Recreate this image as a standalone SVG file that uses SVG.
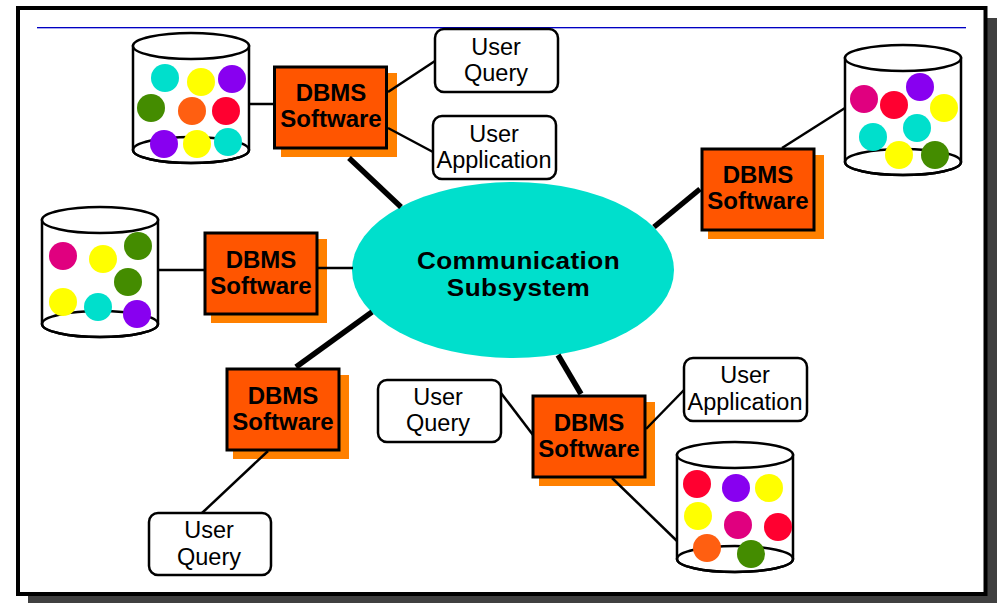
<svg xmlns="http://www.w3.org/2000/svg" width="997" height="603" viewBox="0 0 997 603">
<style>
.sh{fill:#ff8000}
.bx{fill:#ff5500;stroke:#000;stroke-width:3}
.d{font:bold 24px "Liberation Sans",Arial,sans-serif;fill:#000;text-anchor:middle}
.hb{letter-spacing:.4px}
.u{font:23.500px "Liberation Sans",Arial,sans-serif;fill:#000;text-anchor:middle}
.ub{fill:#fff;stroke:#000;stroke-width:2.5}
.cy{fill:#fff;stroke:#000;stroke-width:2.5}
.cl{fill:none;stroke:#000;stroke-width:2.5}
.t{stroke:#000;stroke-width:2.5;fill:none}
.k{stroke:#000;stroke-width:5.5;fill:none}
.c{fill:#00dfcc}.y{fill:#ffff00}.p{fill:#8800f0}.g{fill:#448c00}.o{fill:#ff5f11}.r{fill:#ff0030}.m{fill:#e0007f}
</style>
<rect width="997" height="603" fill="#fff"/>
<rect x="28" y="18" width="969" height="585" fill="#404040"/>
<rect x="18" y="8" width="967.500" height="586" fill="#fff" stroke="#000" stroke-width="4"/>
<rect x="37" y="27" width="929" height="1" fill="#0000c0"/>
<rect x="37" y="28" width="929" height="1" fill="#a8a8f0"/>
<g id="hub"><ellipse cx="513" cy="270" rx="161" ry="88" class="c"/>
<text class="d hb" transform="translate(518.500 269) scale(1.09 1)">Communication</text><text class="d hb" transform="translate(518.500 296) scale(1.09 1)">Subsystem</text></g>
<g id="dbms1"><rect class="sh" x="281" y="73" width="116" height="84"/><rect class="bx" x="274.500" y="67" width="112" height="81"/><text class="d" x="331" y="101">DBMS</text><text class="d" x="331" y="127">Software</text></g>
<g id="dbms2"><rect class="sh" x="708" y="155" width="116" height="84"/><rect class="bx" x="702" y="149" width="112" height="81"/><text class="d" x="758" y="183">DBMS</text><text class="d" x="758" y="209">Software</text></g>
<g id="dbms3"><rect class="sh" x="211" y="239" width="116" height="84"/><rect class="bx" x="205" y="233" width="112" height="81"/><text class="d" x="261" y="268">DBMS</text><text class="d" x="261" y="294">Software</text></g>
<g id="dbms4"><rect class="sh" x="233" y="375" width="116" height="84"/><rect class="bx" x="227" y="369" width="112" height="81"/><text class="d" x="283" y="404">DBMS</text><text class="d" x="283" y="430">Software</text></g>
<g id="dbms5"><rect class="sh" x="539" y="402" width="116" height="84"/><rect class="bx" x="533" y="396" width="112" height="81"/><text class="d" x="589" y="431">DBMS</text><text class="d" x="589" y="457">Software</text></g>
<g id="connectors">
<line class="k" x1="349" y1="158" x2="401" y2="207"/>
<line class="k" x1="654" y1="227" x2="700" y2="189"/>
<line class="k" x1="296" y1="367" x2="372" y2="312"/>
<line class="k" x1="558" y1="355" x2="581" y2="394"/>
<line class="t" x1="249" y1="104" x2="274" y2="104"/>
<line class="t" x1="388" y1="92" x2="435" y2="61"/>
<line class="t" x1="388" y1="128" x2="433" y2="152"/>
<line class="t" x1="782" y1="148" x2="845" y2="108"/>
<line class="t" x1="158" y1="270" x2="205" y2="270"/>
<line class="t" x1="318" y1="268" x2="353" y2="268"/>
<line class="t" x1="268" y1="451" x2="202" y2="513"/>
<line class="t" x1="501" y1="393" x2="533" y2="435"/>
<line class="t" x1="646" y1="429" x2="684" y2="390"/>
<line class="t" x1="612" y1="478" x2="677" y2="541"/>
</g>
<g id="uq1"><rect class="ub" x="435" y="29" width="123" height="63" rx="9"/><text class="u" x="496" y="55">User</text><text class="u" x="496" y="81">Query</text></g>
<g id="ua1"><rect class="ub" x="433" y="116" width="123" height="63" rx="9"/><text class="u" x="494" y="142">User</text><text class="u" x="494" y="168">Application</text></g>
<g id="uq2"><rect class="ub" x="378" y="380" width="123" height="62" rx="9"/><text class="u" x="438" y="405">User</text><text class="u" x="438" y="431">Query</text></g>
<g id="ua2"><rect class="ub" x="684" y="358" width="123" height="63" rx="9"/><text class="u" x="745" y="383">User</text><text class="u" x="745" y="410">Application</text></g>
<g id="uq3"><rect class="ub" x="149" y="513" width="122" height="62" rx="9"/><text class="u" x="209" y="538">User</text><text class="u" x="209" y="565">Query</text></g>
<g id="db1"><path class="cy" d="M133 46V150A58 13 0 0 0 249 150V46Z"/><ellipse class="cl" cx="191" cy="150" rx="58" ry="13"/><ellipse class="cy" cx="191" cy="46" rx="58" ry="13"/>
<circle class="c" cx="165" cy="78" r="14"/><circle class="y" cx="201" cy="82" r="14"/><circle class="p" cx="232" cy="79" r="14"/><circle class="g" cx="151" cy="108" r="14"/><circle class="o" cx="192" cy="111" r="14"/><circle class="r" cx="226" cy="111" r="14"/><circle class="p" cx="164" cy="144" r="14"/><circle class="y" cx="197" cy="144" r="14"/><circle class="c" cx="228" cy="142" r="14"/></g>
<g id="db2"><path class="cy" d="M845 58V162A58 13 0 0 0 961 162V58Z"/><ellipse class="cl" cx="903" cy="162" rx="58" ry="13"/><ellipse class="cy" cx="903" cy="58" rx="58" ry="13"/>
<circle class="m" cx="864" cy="99" r="14"/><circle class="r" cx="894" cy="105" r="14"/><circle class="p" cx="920" cy="87" r="14"/><circle class="y" cx="944" cy="108" r="14"/><circle class="c" cx="873" cy="137" r="14"/><circle class="c" cx="917" cy="128" r="14"/><circle class="y" cx="899" cy="155" r="14"/><circle class="g" cx="935" cy="155" r="14"/></g>
<g id="db3"><path class="cy" d="M42 220V324A58 13 0 0 0 158 324V220Z"/><ellipse class="cl" cx="100" cy="324" rx="58" ry="13"/><ellipse class="cy" cx="100" cy="220" rx="58" ry="13"/>
<circle class="m" cx="63" cy="256" r="14"/><circle class="y" cx="103" cy="259" r="14"/><circle class="g" cx="138" cy="246" r="14"/><circle class="g" cx="128" cy="282" r="14"/><circle class="y" cx="63" cy="302" r="14"/><circle class="c" cx="98" cy="307" r="14"/><circle class="p" cx="137" cy="314" r="14"/></g>
<g id="db4"><path class="cy" d="M677 455V559A58 13 0 0 0 793 559V455Z"/><ellipse class="cl" cx="735" cy="559" rx="58" ry="13"/><ellipse class="cy" cx="735" cy="455" rx="58" ry="13"/>
<circle class="r" cx="697" cy="484" r="14"/><circle class="p" cx="736" cy="488" r="14"/><circle class="y" cx="769" cy="488" r="14"/><circle class="y" cx="698" cy="516" r="14"/><circle class="m" cx="738" cy="525" r="14"/><circle class="r" cx="778" cy="527" r="14"/><circle class="o" cx="707" cy="548" r="14"/><circle class="g" cx="751" cy="554" r="14"/></g>
</svg>
